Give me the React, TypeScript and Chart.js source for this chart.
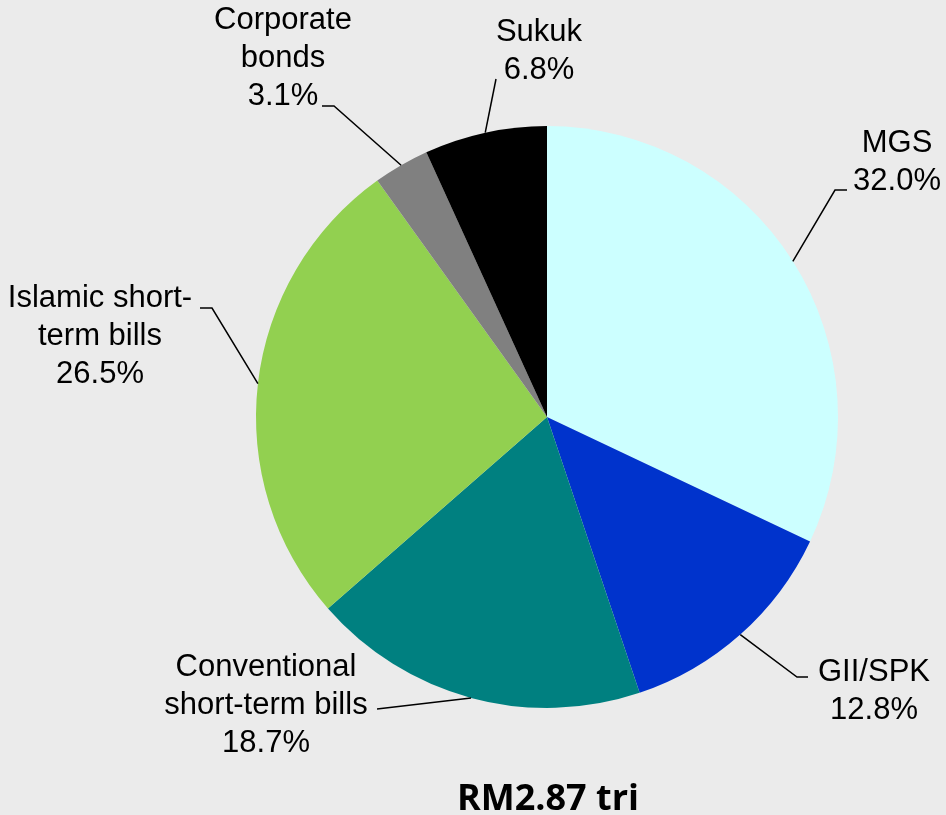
import React, { useEffect, useRef } from "react";
import { Chart, registerables } from "chart.js";

Chart.register(...registerables);

// ---- data ----
const categories: string[][] = [
  ["MGS"],
  ["GII/SPK"],
  ["Conventional", "short-term bills"],
  ["Islamic short-", "term bills"],
  ["Corporate", "bonds"],
  ["Sukuk"],
];
const shares: number[] = [32.0, 12.8, 18.7, 26.5, 3.1, 6.8];
const sliceColors: string[] = ["#CCFFFF", "#0033CC", "#008080", "#92D050", "#808080", "#000000"];
const totalLabel = "RM2.87 tri";

// ---- label layout (text centre x, first line centre y, leader points) ----
type LabelLayout = { x: number; y: number; leader: [number, number][] };
const labelLayout: LabelLayout[] = [
  { x: 897, y: 143, leader: [[835, 190], [847, 190]] },
  { x: 874, y: 672, leader: [[797, 677], [808, 677]] },
  { x: 266, y: 667, leader: [[377, 709]] },
  { x: 100, y: 298, leader: [[212, 308], [200, 308]] },
  { x: 283, y: 20, leader: [[334, 106], [322, 106]] },
  { x: 539, y: 32, leader: [[496, 79]] },
];
const LINE_H = 38;

const labelPlugin = {
  id: "pieLabels",
  afterDatasetsDraw(chart: any) {
    const ctx = chart.ctx as CanvasRenderingContext2D;
    const meta = chart.getDatasetMeta(0);
    ctx.save();
    meta.data.forEach((arc: any, i: number) => {
      const mid = (arc.startAngle + arc.endAngle) / 2;
      const sx = arc.x + Math.cos(mid) * arc.outerRadius;
      const sy = arc.y + Math.sin(mid) * arc.outerRadius;
      const lay = labelLayout[i];
      ctx.beginPath();
      ctx.moveTo(sx, sy);
      lay.leader.forEach(([px, py]) => ctx.lineTo(px, py));
      ctx.strokeStyle = "#000";
      ctx.lineWidth = 1.5;
      ctx.stroke();
      const lines = [...categories[i], shares[i].toFixed(1) + "%"];
      ctx.fillStyle = "#000";
      ctx.font = "31px 'Liberation Sans', Arial, sans-serif";
      ctx.textAlign = "center";
      ctx.textBaseline = "middle";
      lines.forEach((t, k) => ctx.fillText(t, lay.x, lay.y + k * LINE_H));
    });
    ctx.font = "bold 36px 'Open Sans', sans-serif";
    ctx.textAlign = "center";
    ctx.textBaseline = "alphabetic";
    ctx.fillStyle = "#000";
    ctx.fillText(totalLabel, 548, 810);
    ctx.restore();
  },
};

export default function App() {
  const ref = useRef<HTMLCanvasElement>(null);
  useEffect(() => {
    if (!ref.current) return;
    const chart = new Chart(ref.current, {
      type: "pie",
      data: {
        labels: categories.map((c) => c.join(" ")),
        datasets: [
          {
            data: shares,
            backgroundColor: sliceColors,
            borderWidth: 0,
          },
        ],
      },
      options: {
        responsive: true,
        maintainAspectRatio: false,
        animation: false,
        layout: { padding: { left: 256, right: 108, top: 126, bottom: 107 } },
        plugins: {
          legend: { display: false },
          tooltip: { enabled: false },
          title: { display: false },
        },
      },
      plugins: [labelPlugin],
    });
    return () => chart.destroy();
  }, []);
  return (
    <div style={{ position: "fixed", left: 0, top: 0, width: 946, height: 815, background: "#EBEBEB" }}>
      <canvas ref={ref} />
    </div>
  );
}
